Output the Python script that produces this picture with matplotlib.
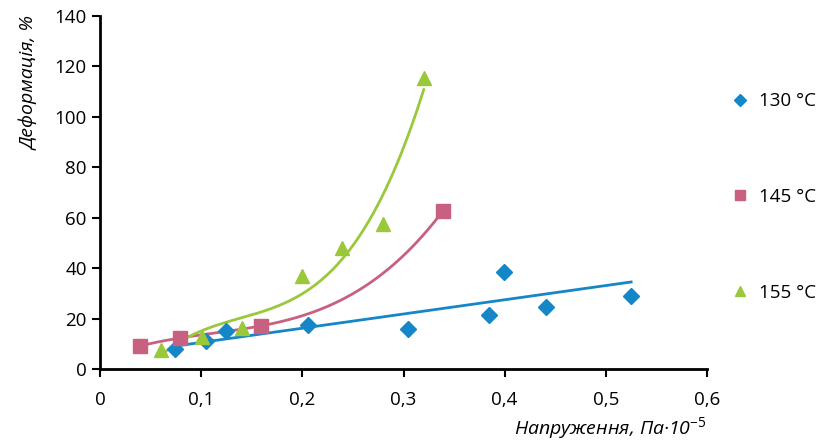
import matplotlib.pyplot as plt
import numpy as np

# 130 °C
x130 = [0.074, 0.105, 0.125, 0.206, 0.304, 0.385, 0.399, 0.441, 0.525]
y130 = [7.9, 11.1, 15.1, 17.5, 15.9, 21.4, 38.5, 24.6, 29.0]
# linear trend of the 130 °C series as drawn in the source (slope, intercept)
trend130 = [56.4, 4.9]
# 145 °C
x145 = [0.0395, 0.079, 0.159, 0.339]
y145 = [9.1, 12.3, 17.1, 62.7]
# 155 °C
x155 = [0.060, 0.101, 0.140, 0.200, 0.239, 0.280, 0.320]
y155 = [7.5, 12.7, 16.3, 36.9, 48.0, 57.5, 115.5]

labels = ["130 °C", "145 °C", "155 °C"]
colors = ["#1587c9", "#c8607f", "#9ac83b"]

plt.rcParams['font.family'] = ['Open Sans', 'DejaVu Sans']
plt.rcParams['mathtext.fontset'] = 'custom'
plt.rcParams['mathtext.rm'] = 'Open Sans'
plt.rcParams['mathtext.it'] = 'Open Sans:italic'

fig = plt.figure(figsize=(8.3, 4.43), dpi=100)
ax = fig.add_axes([0.1205, 0.167, 0.7313, 0.797])


def trend(ax, coef, color, x0, x1):
    xx = np.linspace(x0, x1, 200)
    ax.plot(xx, np.polyval(coef, xx), color=color, lw=2, zorder=2)


trend(ax, trend130, colors[0], 0.075, 0.525)
trend(ax, np.polyfit(x145, y145, 3), colors[1], 0.0395, 0.339)
trend(ax, np.polyfit(x155, y155, 3), colors[2], 0.065, 0.32)

ax.plot(x130, y130, 'D', color=colors[0], ms=8, ls='none', label=labels[0], zorder=3)
ax.plot(x145, y145, 's', color=colors[1], ms=9.5, ls='none', label=labels[1], zorder=3)
ax.plot(x155, y155, '^', color=colors[2], ms=10, ls='none', label=labels[2], zorder=3)

ax.set_xlim(0, 0.6)
ax.set_ylim(0, 140)
ax.set_xticks(np.arange(0, 0.61, 0.1))
ax.set_xticklabels(["0", "0,1", "0,2", "0,3", "0,4", "0,5", "0,6"])
ax.set_yticks(range(0, 141, 20))
ax.spines['top'].set_visible(False)
ax.spines['right'].set_visible(False)
ax.spines['left'].set_linewidth(2)
ax.spines['bottom'].set_linewidth(2)
ax.tick_params(width=1.5, length=6, labelsize=13.5)
ax.tick_params(axis='x', pad=10)

fig.text(0.035, 0.965, "Деформація, %", rotation=90, style='italic',
         fontsize=14, ha='center', va='top')
fig.text(0.852, 0.005, "Напруження, Па·10$^{-5}$", style='italic',
         fontsize=14, ha='right', va='bottom')

ax.legend(loc='upper left', bbox_to_anchor=(0.86, 0.83), bbox_transform=fig.transFigure,
          frameon=False, fontsize=13.5, labelspacing=4.15, handletextpad=0.5,
          markerscale=0.75, handlelength=1)

plt.savefig("out.png")
